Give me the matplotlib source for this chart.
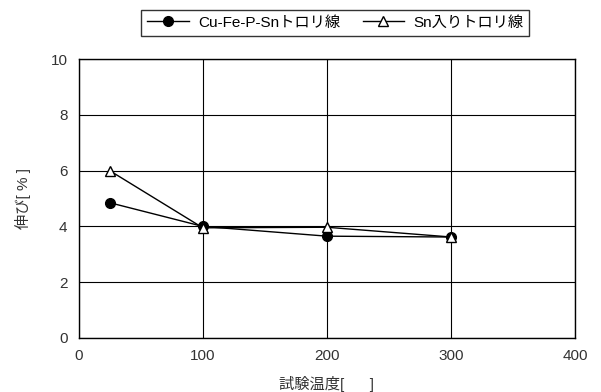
import matplotlib
matplotlib.use('agg')
import matplotlib.pyplot as plt

plt.rcParams['font.family'] = ['Liberation Sans', 'Noto Sans CJK JP']

# データ
temps = [25, 100, 200, 300]
cu_fe_p_sn = [4.85, 4.0, 3.65, 3.62]
sn_iri = [6.0, 3.95, 3.97, 3.62]
label_a = 'Cu-Fe-P-Snトロリ線'
label_b = 'Sn入りトロリ線'

fig = plt.figure(figsize=(6.01, 3.92), dpi=100)
ax = fig.add_axes([0.131, 0.138, 0.826, 0.711])

ax.plot(temps, cu_fe_p_sn, color='black', lw=1, marker='o', markersize=7,
        markerfacecolor='black', label=label_a)
ax.plot(temps, sn_iri, color='black', lw=1, marker='^', markersize=7.5,
        markerfacecolor='white', markeredgewidth=1, label=label_b)

ax.set_xlim(0, 400)
ax.set_ylim(0, 10)
ax.set_xticks(range(0, 401, 100))
ax.set_yticks(range(0, 11, 2))
ax.tick_params(length=0, labelsize=11, pad=8, colors='#333333')
ax.grid(color='black', lw=0.8)
for s in ax.spines.values():
    s.set_linewidth(1)
    s.set_color('black')

ax.set_xlabel('試験温度[      ]', fontsize=11, color='#333333', labelpad=9)
ax.set_ylabel('伸び[ % ]', fontsize=11, color='#333333', labelpad=14)

fig.legend(loc='upper center', bbox_to_anchor=(0.558, 0.995), ncol=2, fontsize=11,
           frameon=True, fancybox=False, edgecolor='black', handlelength=2.7,
           columnspacing=1.5, borderpad=0.4, handletextpad=0.6)

plt.savefig('out.png', dpi=100)
